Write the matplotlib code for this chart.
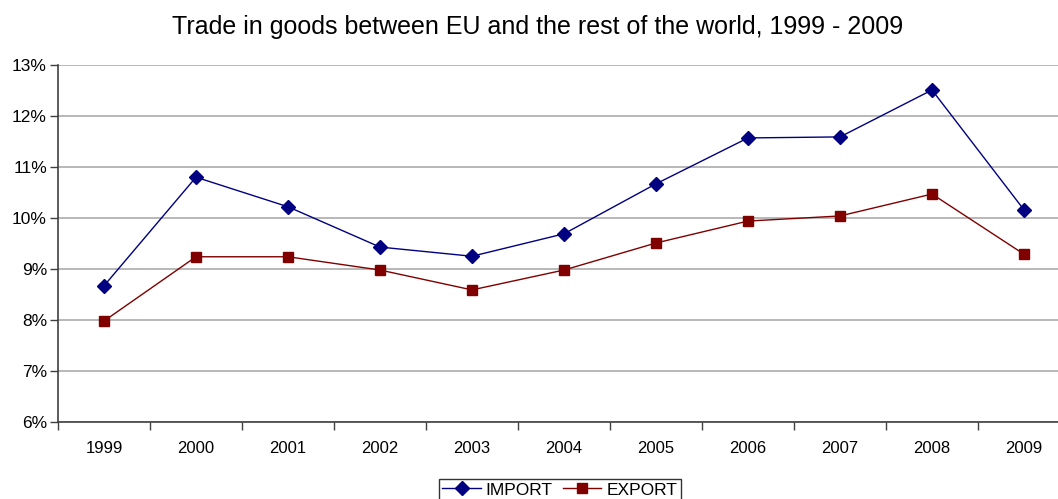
import matplotlib
matplotlib.use("Agg")
import matplotlib.pyplot as plt
from matplotlib.ticker import FuncFormatter, MultipleLocator

years = ["1999", "2000", "2001", "2002", "2003", "2004", "2005", "2006", "2007", "2008", "2009"]
imports = [8.67, 10.80, 10.22, 9.43, 9.25, 9.69, 10.67, 11.57, 11.59, 12.51, 10.16]
exports = [7.98, 9.24, 9.24, 8.98, 8.59, 8.98, 9.51, 9.94, 10.04, 10.47, 9.29]

plt.rcParams['font.family'] = ['Liberation Sans', 'DejaVu Sans']

W, H = 1058, 499
fig = plt.figure(figsize=(W / 100, H / 100), dpi=100)
left, right, top, bottom = 58, 1070, 65, 422
ax = fig.add_axes([left / W, (H - bottom) / H, (right - left) / W, (bottom - top) / H])

x = list(range(len(years)))
ax.plot(x, imports, color='#000080', lw=1.0, marker='D', ms=7, label='IMPORT')
ax.plot(x, exports, color='#800000', lw=1.0, marker='s', ms=6.5, label='EXPORT')

ax.set_xlim(-0.5, len(years) - 0.5)
ax.set_ylim(6, 13)
ax.yaxis.set_major_locator(MultipleLocator(1))
ax.yaxis.set_major_formatter(FuncFormatter(lambda v, p: f"{v:.0f}%"))
ax.set_xticks(x)
ax.set_xticklabels(years)
ax.tick_params(axis='x', length=0, pad=14, labelsize=12)
ax.set_xticks([i + 0.5 for i in range(-1, len(years))], minor=True)
ax.tick_params(axis='x', which='minor', length=6, width=1, color='#404040', direction='out')
ax.tick_params(axis='y', length=6, width=1, color='#404040', direction='out', labelsize=12.5, pad=2)
ax.grid(axis='y', color='#ababab', lw=1.2)
ax.set_axisbelow(True)
for s in ['top', 'right']:
    ax.spines[s].set_visible(False)
for s in ['left', 'bottom']:
    ax.spines[s].set_color('#404040')
    ax.spines[s].set_linewidth(1.2)

fig.text(538 / W, 1 - 27 / H, "Trade in goods between EU and the rest of the world, 1999 - 2009",
         ha='center', va='center', fontsize=18)

leg = fig.legend(loc='center', bbox_to_anchor=(560 / W, 1 - 490 / H), ncol=2, frameon=True,
                 fancybox=False, edgecolor='black', fontsize=12.5, handlelength=2.2,
                 handletextpad=0.3, columnspacing=0.6, borderpad=0.2, borderaxespad=0)
leg.get_frame().set_linewidth(1.0)

fig.savefig("out.png", dpi=100)
